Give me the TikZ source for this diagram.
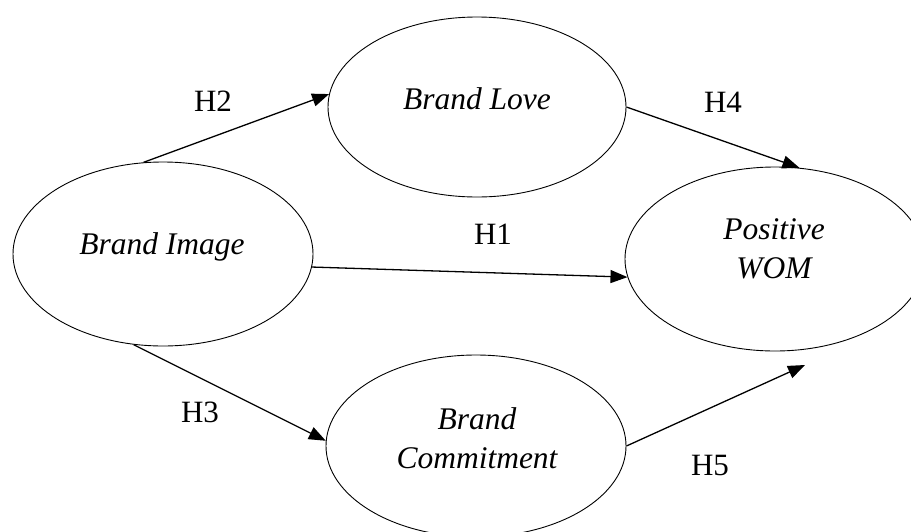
\documentclass[tikz,border=0pt]{standalone}
\usepackage{fontspec}
\setmainfont{Liberation Serif}
\usetikzlibrary{shapes.geometric,arrows.meta}
\tikzset{
  construct/.style={ellipse, draw=black, line width=0.9pt, inner sep=0pt},
  ctext/.style={anchor=base, inner sep=0pt, font=\fontsize{31.5}{39}\selectfont\itshape, align=center},
  hlabel/.style={anchor=base, inner sep=0pt, font=\fontsize{31}{36}\selectfont},
  path/.style={line width=1.3pt, -{Triangle[length=17pt,width=13pt]}}
}
\begin{document}
\begin{tikzpicture}[x=1pt,y=-1pt]
\useasboundingbox (0,0) rectangle (911,531);
\clip (0,0) rectangle (911,531);
% constructs
\node[construct, minimum width=300pt, minimum height=184pt] (bi) at (163,254) {};
\node[construct, minimum width=298pt, minimum height=180pt] (bl) at (477,107) {};
\node[construct, minimum width=300pt, minimum height=184pt] (wom) at (775,259) {};
\node[construct, minimum width=300pt, minimum height=182pt] (bc) at (476,446) {};
% texts
\node[ctext] (bit) at (162,254) {Brand Image};
\node[ctext] (blt) at (477,109) {Brand Love};
\node[ctext] (womt) at (774,278) {Positive\\WOM};
\node[ctext] (bct) at (477,468) {Brand\\Commitment};
% paths
\coordinate (h5end) at (805,365);
\draw[path] (bi.102) -- (bl.175);
\draw[path] (bl.0) -- (wom.75);
\draw[path] (bi.-5) -- (wom.187);
\draw[path] (bi.-108) -- (bc.178.5);
\draw[path] (bc.0) -- (h5end);
% labels
\node[hlabel] (h1) at (493,244) {H1};
\node[hlabel] (h2) at (213,111) {H2};
\node[hlabel] (h3) at (200,422) {H3};
\node[hlabel] (h4) at (723,112) {H4};
\node[hlabel] (h5) at (710,475) {H5};
\end{tikzpicture}
\end{document}
